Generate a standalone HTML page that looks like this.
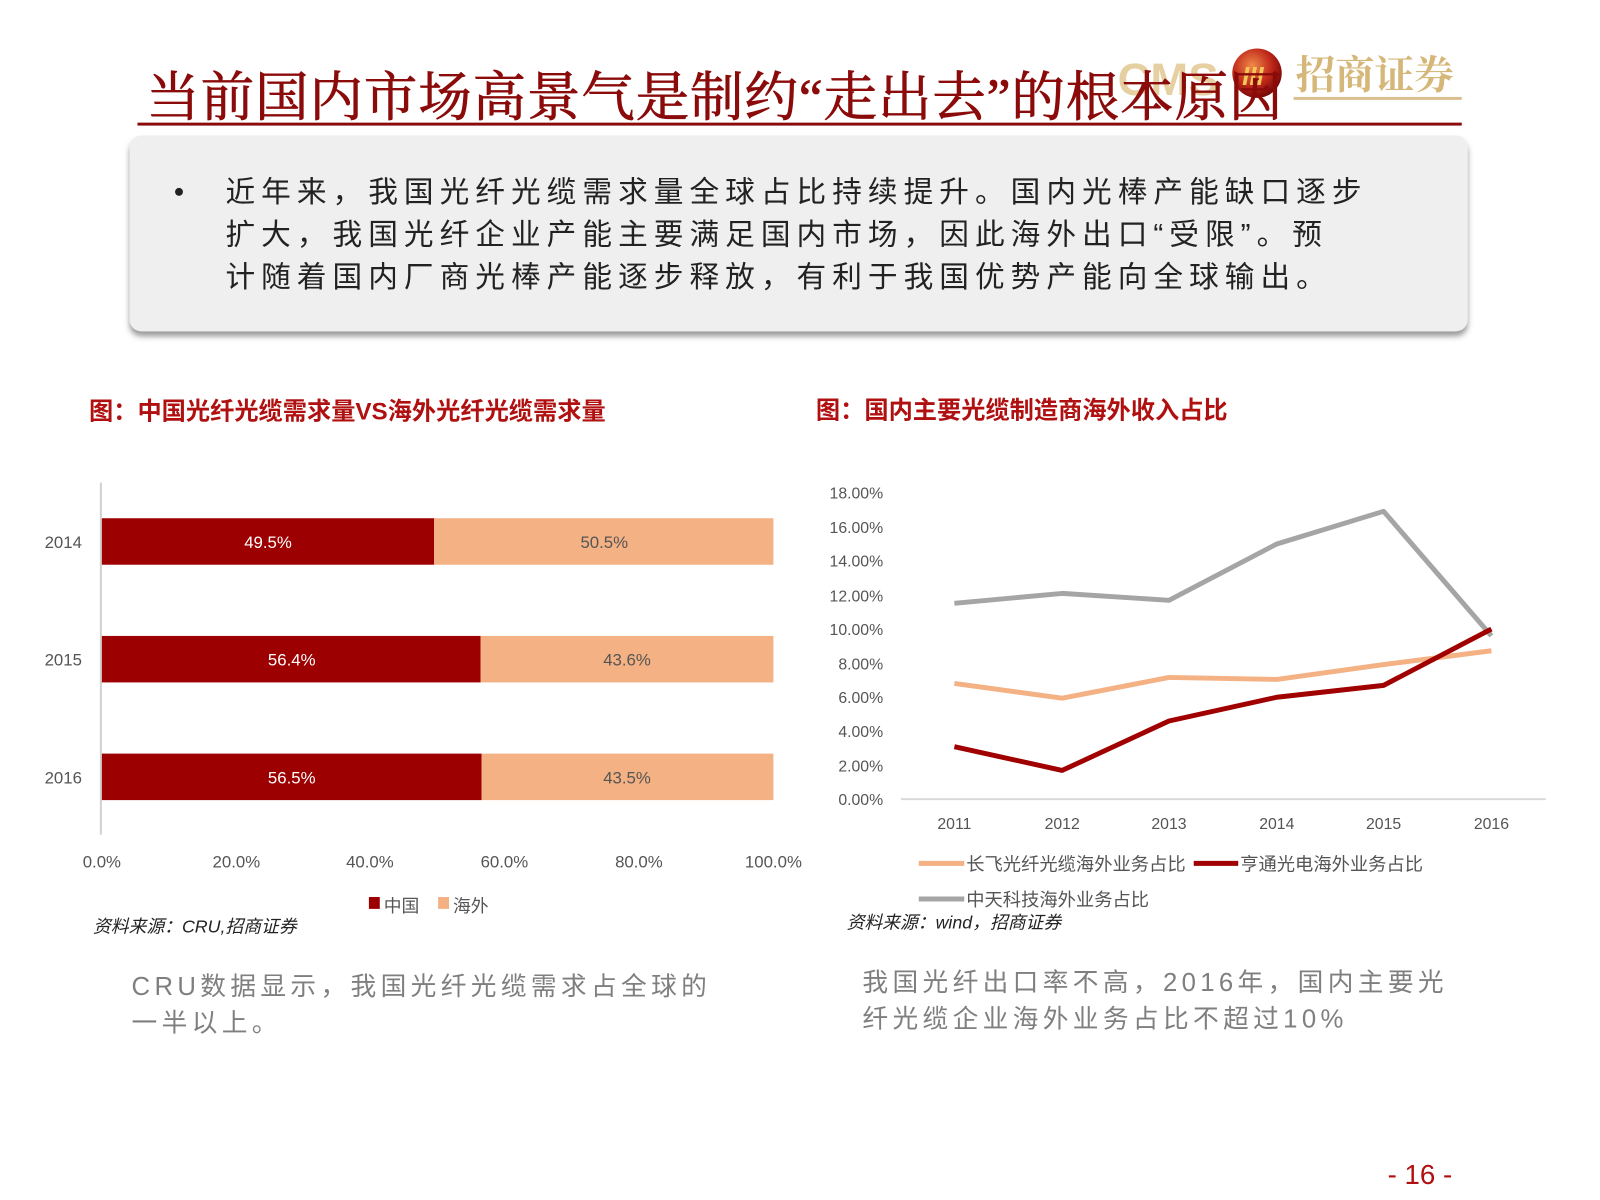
<!DOCTYPE html>
<html><head><meta charset="utf-8"><style>
html,body{margin:0;padding:0;background:#fff;width:1600px;height:1200px;overflow:hidden}
text{font-family:"Liberation Sans","Noto Sans CJK SC",sans-serif}
.serif{font-family:"Liberation Serif","Noto Serif CJK SC",serif}
</style></head><body>
<svg width="1600" height="1200" viewBox="0 0 1600 1200" xmlns="http://www.w3.org/2000/svg">
<defs>
<filter id="sh" x="-5%" y="-10%" width="110%" height="130%"><feDropShadow dx="0" dy="5" stdDeviation="3" flood-color="#555" flood-opacity="0.6"/></filter>
<radialGradient id="ball" cx="40%" cy="35%" r="65%"><stop offset="0" stop-color="#f08a4a"/><stop offset="0.6" stop-color="#c0281a"/><stop offset="1" stop-color="#7a0a08"/></radialGradient>
</defs>
<g transform="scale(0.989)">
<!-- logo -->
<text x="1130" y="96" font-size="46" font-weight="bold" fill="#e6cfa0">CMS</text>
<circle cx="1271" cy="74" r="25" fill="url(#ball)"/>
<text x="1256" y="86" font-size="26" font-weight="bold" font-style="italic" fill="#f3c65a">III</text>
<text x="1310" y="90" font-size="40" font-weight="bold" fill="#d6b77a" class="serif">招商证券</text>
<rect x="1308" y="98" width="170" height="3" fill="#d8bf8e"/>
<!-- title -->
<text x="148" y="117" font-size="54" letter-spacing="1" fill="#8b0b0b" stroke="#8b0b0b" stroke-width="0.8" class="serif">当前国内市场高景气是制约“走出去”的根本原因</text>
<rect x="139" y="124" width="1339" height="3" fill="#8b0b0b"/>
<!-- box -->
<rect x="131" y="137" width="1353" height="198" rx="12" fill="#efefef" filter="url(#sh)"/>
<circle cx="181" cy="194" r="4" fill="#222"/>
<g font-size="30" fill="#222" class="serif" letter-spacing="6.1">
<text x="228" y="204">近年来，我国光纤光缆需求量全球占比持续提升。国内光棒产能缺口逐步</text>
<text x="228" y="247">扩大，我国光纤企业产能主要满足国内市场，因此海外出口“受限”。预</text>
<text x="228" y="290">计随着国内厂商光棒产能逐步释放，有利于我国优势产能向全球输出。</text>
</g>
<!-- chart titles -->
<text x="90" y="424" font-size="24.5" font-weight="bold" fill="#b01010">图：中国光纤光缆需求量VS海外光纤光缆需求量</text>
<text x="825" y="423" font-size="24.5" font-weight="bold" fill="#b01010">图：国内主要光缆制造商海外收入占比</text>
<!-- bar chart -->
<line x1="102" y1="488" x2="102" y2="844" stroke="#d0d0d0" stroke-width="2"/>
<g>
<rect x="103" y="524" width="336" height="47" fill="#9c0000"/><rect x="439" y="524" width="343" height="47" fill="#f4b183"/>
<rect x="103" y="643" width="383" height="47" fill="#9c0000"/><rect x="486" y="643" width="296" height="47" fill="#f4b183"/>
<rect x="103" y="762" width="384" height="47" fill="#9c0000"/><rect x="487" y="762" width="295" height="47" fill="#f4b183"/>
</g>
<g font-size="17" text-anchor="middle">
<text x="271" y="554" fill="#fff">49.5%</text><text x="611" y="554" fill="#555">50.5%</text>
<text x="295" y="673" fill="#fff">56.4%</text><text x="634" y="673" fill="#555">43.6%</text>
<text x="295" y="792" fill="#fff">56.5%</text><text x="634" y="792" fill="#555">43.5%</text>
</g>
<g font-size="17" fill="#555" text-anchor="middle">
<text x="64" y="554">2014</text><text x="64" y="673">2015</text><text x="64" y="792">2016</text>
<text x="103" y="877">0.0%</text><text x="239" y="877">20.0%</text><text x="374" y="877">40.0%</text><text x="510" y="877">60.0%</text><text x="646" y="877">80.0%</text><text x="782" y="877">100.0%</text>
</g>
<rect x="373" y="907" width="11" height="12" fill="#9c0000"/><text x="388" y="922" font-size="18" fill="#555">中国</text>
<rect x="443" y="907" width="11" height="12" fill="#f4b183"/><text x="458" y="922" font-size="18" fill="#555">海外</text>
<text x="94" y="943" font-size="18" font-style="italic" fill="#222">资料来源：CRU,招商证券</text>
<!-- line chart -->
<g font-size="16" fill="#555" text-anchor="end">
<text x="893" y="504">18.00%</text><text x="893" y="539">16.00%</text><text x="893" y="573">14.00%</text><text x="893" y="608">12.00%</text><text x="893" y="642">10.00%</text><text x="893" y="677">8.00%</text><text x="893" y="711">6.00%</text><text x="893" y="745">4.00%</text><text x="893" y="780">2.00%</text><text x="893" y="814">0.00%</text>
</g>
<line x1="911" y1="808" x2="1563" y2="808" stroke="#d9d9d9" stroke-width="2"/>
<g font-size="16" fill="#555" text-anchor="middle">
<text x="965" y="838">2011</text><text x="1074" y="838">2012</text><text x="1182" y="838">2013</text><text x="1291" y="838">2014</text><text x="1399" y="838">2015</text><text x="1508" y="838">2016</text>
</g>
<g fill="none" stroke-width="5" stroke-linejoin="round">
<polyline stroke="#a5a5a5" points="965,610 1074,600 1182,607 1291,550 1399,517 1508,643"/>
<polyline stroke="#f4b183" points="965,691 1074,706 1182,685 1291,687 1399,672 1508,658"/>
<polyline stroke="#a00000" points="965,755 1074,779 1182,729 1291,705 1399,693 1508,636"/>
</g>
<line x1="929" y1="873" x2="975" y2="873" stroke="#f4b183" stroke-width="5"/>
<text x="977" y="880" font-size="18.5" fill="#555">长飞光纤光缆海外业务占比</text>
<line x1="1207" y1="873" x2="1252" y2="873" stroke="#a00000" stroke-width="5"/>
<text x="1254" y="880" font-size="18.5" fill="#555">亨通光电海外业务占比</text>
<line x1="929" y1="909" x2="975" y2="909" stroke="#a5a5a5" stroke-width="5"/>
<text x="977" y="916" font-size="18.5" fill="#555">中天科技海外业务占比</text>
<text x="856" y="939" font-size="18" font-style="italic" fill="#222">资料来源：wind，招商证券</text>
<!-- bottom texts -->
<g font-size="26" fill="#7f7f7f" class="serif" letter-spacing="4.4">
<text x="133" y="1006">CRU数据显示，我国光纤光缆需求占全球的</text>
<text x="133" y="1043">一半以上。</text>
<text x="872" y="1002">我国光纤出口率不高，2016年，国内主要光</text>
<text x="872" y="1039">纤光缆企业海外业务占比不超过10%</text>
</g>
<text x="1403" y="1197" font-size="28" fill="#b01010">- 16 -</text>
</g>
</svg>
</body></html>
